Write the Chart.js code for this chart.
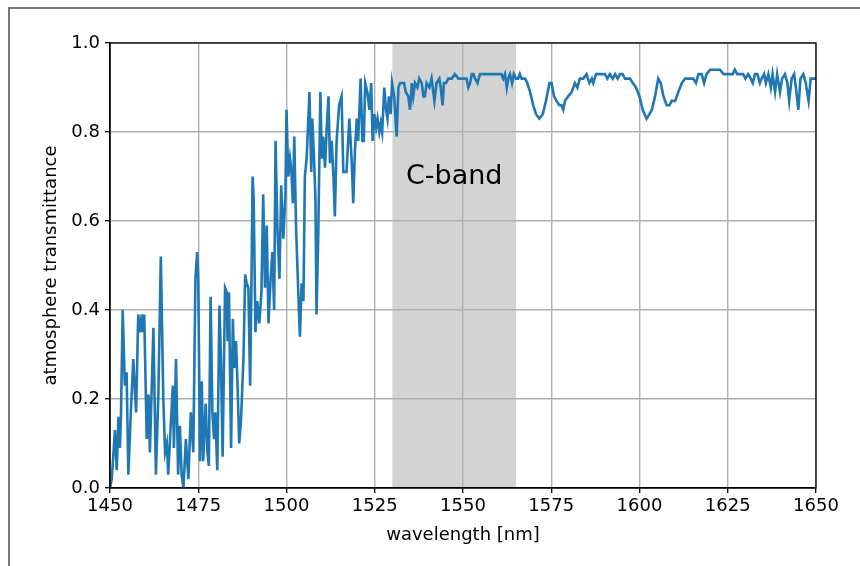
<!DOCTYPE html>
<html lang="en">
<head>
  <meta charset="UTF-8">
  <title>Atmosphere transmittance</title>
  <script src="https://cdn.jsdelivr.net/npm/chart.js"></script>
  <style>
    body {
      margin: 0;
      background: #ffffff;
      font-family: 'DejaVu Sans', sans-serif;
    }

    .wrap {
      position: relative;
      width: 860px;
      height: 566px;
      overflow: hidden;
    }

    .frame {
      position: absolute;
      left: 8px;
      top: 7px;
      width: 900px;
      height: 600px;
      border-top: 2px solid #777777;
      border-left: 2px solid #777777;
      pointer-events: none;
    }

    canvas {
      position: absolute;
      left: 0;
      top: 0;
    }
  </style>
</head>
<body>

  <div class="wrap">
    <div class="frame"></div>
    <canvas id="transChart" width="860" height="566"></canvas>
  </div>

  <script>
    // wavelength in nm
    const wavelength = [
      1450.0, 1450.5, 1451.4, 1451.9, 1452.4, 1452.8, 1453.1, 1453.6, 1454.2, 1454.7,
      1455.2, 1455.9, 1456.6, 1457.1, 1457.4, 1458.0, 1458.5, 1459.0, 1459.3, 1459.7,
      1460.4, 1460.9, 1461.3, 1462.3, 1463.0, 1463.7, 1464.4, 1465.1, 1465.6, 1466.1,
      1466.5, 1467.0, 1467.8, 1468.1, 1468.7, 1469.3, 1469.8, 1470.3, 1470.8, 1471.5,
      1472.2, 1472.9, 1473.6, 1474.2, 1474.7, 1475.0, 1475.5, 1476.0, 1476.4, 1477.1,
      1477.6, 1478.0, 1478.5, 1479.0, 1479.5, 1479.8, 1480.4, 1481.0, 1481.4, 1481.9,
      1482.6, 1483.1, 1483.3, 1483.7, 1484.3, 1484.8, 1485.2, 1485.7, 1486.1, 1486.6,
      1487.1, 1487.8, 1488.3, 1488.7, 1489.2, 1489.7, 1490.1, 1490.4, 1490.7, 1491.2,
      1491.7, 1492.3, 1492.9, 1493.4, 1493.9, 1494.4, 1494.9, 1495.5, 1496.0, 1496.5,
      1496.9, 1497.4, 1498.0, 1498.5, 1499.1, 1499.7, 1500.0, 1500.5, 1501.0, 1501.4,
      1501.8, 1502.2, 1502.7, 1503.2, 1503.8, 1504.3, 1504.8, 1505.2, 1505.7, 1506.5,
      1507.0, 1507.3, 1507.8, 1508.2, 1508.5, 1509.0, 1509.6, 1510.0, 1510.4, 1510.9,
      1511.4, 1511.9, 1512.3, 1512.8, 1513.3, 1513.7, 1514.2, 1514.9, 1515.6, 1516.1,
      1516.6, 1517.0, 1517.8, 1518.5, 1518.9, 1519.4, 1519.9, 1520.3, 1521.0, 1521.5,
      1521.9, 1522.3, 1522.9, 1523.5, 1524.0, 1524.4, 1524.9, 1525.4, 1525.8, 1526.3,
      1526.7, 1527.1, 1527.7, 1528.2, 1528.6, 1529.0, 1529.5, 1529.9, 1530.5, 1531.2,
      1531.7, 1532.2, 1532.6, 1533.3, 1533.8, 1534.5, 1535.0, 1535.5, 1535.9, 1536.4,
      1537.1, 1537.6, 1538.3, 1538.8, 1539.2, 1539.7, 1540.5, 1541.1, 1541.9, 1542.5,
      1543.3, 1543.7, 1544.2, 1544.6, 1545.2, 1545.8, 1546.8, 1547.7, 1548.7, 1549.6,
      1550.3, 1551.0, 1551.5, 1552.0, 1552.5, 1553.0, 1553.4, 1554.1, 1554.8, 1555.8,
      1556.7, 1557.7, 1558.6, 1559.5, 1560.5, 1560.9, 1561.4, 1561.9, 1562.4, 1562.8,
      1563.3, 1563.9, 1564.4, 1565.0, 1565.6, 1566.1, 1566.6, 1567.6, 1568.2, 1569.0,
      1569.9, 1570.7, 1571.6, 1572.6, 1573.5, 1574.5, 1575.1, 1575.8, 1576.5, 1577.3,
      1577.9, 1578.4, 1578.9, 1579.8, 1580.8, 1581.7, 1582.4, 1583.1, 1584.1, 1585.0,
      1585.8, 1586.5, 1586.9, 1587.7, 1588.6, 1589.6, 1590.2, 1590.9, 1591.6, 1592.4,
      1593.1, 1593.8, 1594.5, 1595.2, 1595.9, 1596.6, 1597.3, 1598.1, 1599.0, 1600.0,
      1600.9, 1602.0, 1602.8, 1603.5, 1604.4, 1605.3, 1606.0, 1606.8, 1607.7, 1608.5,
      1609.1, 1610.1, 1611.0, 1612.0, 1612.9, 1614.3, 1615.2, 1616.0, 1616.7, 1617.6,
      1618.3, 1619.0, 1620.0, 1621.0, 1621.9, 1622.8, 1623.8, 1624.7, 1625.6, 1626.4,
      1627.0, 1627.7, 1628.5, 1629.4, 1630.0, 1630.8, 1631.5, 1632.1, 1632.7, 1633.4,
      1634.1, 1634.6, 1635.3, 1635.8, 1636.5, 1637.2, 1637.7, 1638.4, 1639.0, 1639.8,
      1640.4, 1641.2, 1641.9, 1642.4, 1643.1, 1643.8, 1644.3, 1645.0, 1645.6, 1646.4,
      1647.1, 1647.9, 1648.5, 1649.2, 1650.0
    ];

    const transmittance = [
      0.00, 0.02, 0.13, 0.04, 0.16, 0.09, 0.16, 0.40, 0.23, 0.26,
      0.03, 0.17, 0.29, 0.21, 0.17, 0.39, 0.35, 0.39, 0.35, 0.39,
      0.11, 0.21, 0.08, 0.36, 0.03, 0.21, 0.52, 0.20, 0.08, 0.10,
      0.03, 0.11, 0.23, 0.09, 0.29, 0.03, 0.14, 0.03, 0.00, 0.11,
      0.02, 0.17, 0.08, 0.47, 0.53, 0.47, 0.06, 0.24, 0.06, 0.19,
      0.08, 0.05, 0.43, 0.17, 0.11, 0.17, 0.04, 0.41, 0.30, 0.07,
      0.45, 0.44, 0.33, 0.44, 0.09, 0.38, 0.27, 0.33, 0.24, 0.10,
      0.15, 0.29, 0.48, 0.46, 0.45, 0.23, 0.48, 0.70, 0.65, 0.35,
      0.42, 0.37, 0.44, 0.66, 0.45, 0.59, 0.37, 0.47, 0.53, 0.40,
      0.78, 0.59, 0.47, 0.68, 0.56, 0.66, 0.85, 0.70, 0.74, 0.71,
      0.64, 0.79, 0.59, 0.47, 0.34, 0.46, 0.42, 0.70, 0.74, 0.89,
      0.71, 0.83, 0.74, 0.65, 0.39, 0.57, 0.89, 0.74, 0.79, 0.72,
      0.81, 0.88, 0.73, 0.78, 0.70, 0.61, 0.78, 0.86, 0.88, 0.71,
      0.71, 0.71, 0.83, 0.73, 0.64, 0.76, 0.83, 0.78, 0.92, 0.78,
      0.78, 0.91, 0.89, 0.85, 0.91, 0.78, 0.84, 0.81, 0.83, 0.80,
      0.82, 0.80, 0.90, 0.85, 0.83, 0.88, 0.84, 0.91, 0.88, 0.79,
      0.90, 0.91, 0.91, 0.91, 0.89, 0.88, 0.85, 0.91, 0.88, 0.91,
      0.90, 0.92, 0.91, 0.88, 0.88, 0.91, 0.90, 0.92, 0.87, 0.91,
      0.92, 0.90, 0.86, 0.91, 0.91, 0.92, 0.92, 0.93, 0.92, 0.92,
      0.92, 0.92, 0.90, 0.91, 0.93, 0.93, 0.92, 0.91, 0.93, 0.93,
      0.93, 0.93, 0.93, 0.93, 0.93, 0.93, 0.92, 0.93, 0.90, 0.92,
      0.93, 0.91, 0.93, 0.92, 0.92, 0.93, 0.92, 0.92, 0.91, 0.89,
      0.86, 0.84, 0.83, 0.84, 0.87, 0.91, 0.91, 0.88, 0.87, 0.86,
      0.86, 0.85, 0.87, 0.88, 0.89, 0.91, 0.90, 0.92, 0.92, 0.93,
      0.91, 0.92, 0.91, 0.93, 0.93, 0.93, 0.93, 0.92, 0.93, 0.92,
      0.93, 0.92, 0.93, 0.93, 0.92, 0.92, 0.92, 0.91, 0.90, 0.88,
      0.85, 0.83, 0.84, 0.85, 0.88, 0.92, 0.91, 0.88, 0.86, 0.86,
      0.87, 0.87, 0.89, 0.91, 0.92, 0.92, 0.92, 0.91, 0.93, 0.93,
      0.91, 0.93, 0.94, 0.94, 0.94, 0.94, 0.93, 0.93, 0.93, 0.93,
      0.94, 0.93, 0.93, 0.93, 0.92, 0.93, 0.92, 0.91, 0.93, 0.93,
      0.91, 0.92, 0.93, 0.91, 0.93, 0.90, 0.93, 0.89, 0.93, 0.89,
      0.92, 0.93, 0.91, 0.87, 0.92, 0.93, 0.90, 0.85, 0.92, 0.93,
      0.91, 0.87, 0.92, 0.92, 0.92
    ];

    const xTicks = [1450, 1475, 1500, 1525, 1550, 1575, 1600, 1625, 1650];
    const yTicks = [0.0, 0.2, 0.4, 0.6, 0.8, 1.0];

    // shaded C-band window and its label
    const bandRange = [1530, 1565];
    const bandLabel = 'C-band';
    const bandLabelPos = [1547.5, 0.7];

    const FONT = "'DejaVu Sans', sans-serif";

    // shaded band under the grid, label and top/right spines
    const bandPlugin = {
      id: 'bandPlugin',
      beforeDraw(chart) {
        const { ctx, chartArea, scales } = chart;
        const x0 = scales.x.getPixelForValue(bandRange[0]);
        const x1 = scales.x.getPixelForValue(bandRange[1]);
        ctx.save();
        ctx.fillStyle = '#d3d3d3';
        ctx.fillRect(x0, chartArea.top, x1 - x0, chartArea.bottom - chartArea.top);
        ctx.restore();
      },
      afterDraw(chart) {
        const { ctx, chartArea, scales } = chart;
        ctx.save();
        ctx.strokeStyle = '#000000';
        ctx.lineWidth = 1.3;
        ctx.strokeRect(chartArea.left, chartArea.top,
          chartArea.right - chartArea.left, chartArea.bottom - chartArea.top);
        ctx.fillStyle = '#000000';
        ctx.font = '27px ' + FONT;
        ctx.textAlign = 'center';
        ctx.textBaseline = 'middle';
        ctx.fillText(bandLabel,
          scales.x.getPixelForValue(bandLabelPos[0]),
          scales.y.getPixelForValue(bandLabelPos[1]));
        ctx.restore();
      }
    };

    const points = wavelength.map((w, i) => ({ x: w, y: transmittance[i] }));

    new Chart(document.getElementById('transChart'), {
      type: 'line',
      data: {
        datasets: [{
          data: points,
          borderColor: '#1f77b4',
          borderWidth: 2.6,
          pointRadius: 0,
          tension: 0,
          fill: false
        }]
      },
      options: {
        responsive: false,
        animation: false,
        layout: {
          padding: { top: 43, right: 44, left: 0, bottom: 18 }
        },
        plugins: {
          legend: { display: false },
          tooltip: { enabled: false }
        },
        scales: {
          x: {
            type: 'linear',
            min: xTicks[0],
            max: xTicks[xTicks.length - 1],
            afterFit(scale) { scale.height = 60; },
            afterBuildTicks(scale) { scale.ticks = xTicks.map(v => ({ value: v })); },
            ticks: {
              color: '#000000',
              font: { family: FONT, size: 18 },
              padding: 3,
              maxRotation: 0,
              callback: v => String(v)
            },
            grid: {
              color: '#b0b0b0',
              lineWidth: 1.4,
              tickLength: 5,
              tickColor: '#000000',
              tickWidth: 1.3
            },
            border: { color: '#000000', width: 1.3 },
            title: {
              display: true,
              text: 'wavelength [nm]',
              color: '#000000',
              font: { family: FONT, size: 18 },
              padding: { top: 0, bottom: 2 }
            }
          },
          y: {
            min: yTicks[0],
            max: yTicks[yTicks.length - 1],
            afterFit(scale) { scale.width = 110; },
            afterBuildTicks(scale) { scale.ticks = yTicks.map(v => ({ value: v })); },
            ticks: {
              color: '#000000',
              font: { family: FONT, size: 18 },
              padding: 5,
              callback: v => Number(v).toFixed(1)
            },
            grid: {
              color: '#b0b0b0',
              lineWidth: 1.4,
              tickLength: 5,
              tickColor: '#000000',
              tickWidth: 1.3
            },
            border: { color: '#000000', width: 1.3 },
            title: {
              display: true,
              text: 'atmosphere transmittance',
              color: '#000000',
              font: { family: FONT, size: 18 },
              padding: { top: 41, bottom: 0 }
            }
          }
        }
      },
      plugins: [bandPlugin]
    });
  </script>

</body>
</html>
